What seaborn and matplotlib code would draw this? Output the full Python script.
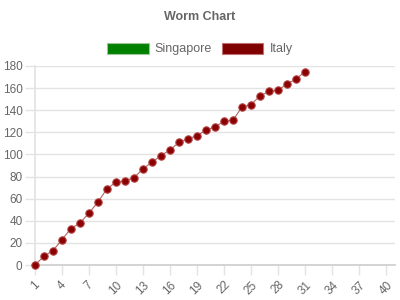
import matplotlib
matplotlib.use("Agg")
import matplotlib.pyplot as plt
import seaborn as sns
import pandas as pd
from matplotlib.patches import Patch

days = list(range(1, 32))
italy = [0, 8, 13, 23, 33, 38, 47, 57, 69, 75, 76, 79, 87, 93, 99, 104, 111, 114, 117,
         122, 125, 130, 131, 143, 145, 153, 157, 158, 164, 168, 175]
singapore = []
x_ticks = list(range(1, 41, 3))
y_ticks = list(range(0, 181, 20))
series_names = ["Singapore", "Italy"]
series_colors = ["#008000", "#800000"]

sns.set_theme(style="white")
plt.rcParams['font.family'] = ['Liberation Sans', 'DejaVu Sans']

fig = plt.figure(figsize=(4, 3), dpi=100)
ax = fig.add_axes([35/400, 1 - 265/300, 360/400, 199/300])

df = pd.DataFrame({"day": days, "value": italy})
sns.lineplot(data=df, x="day", y="value", ax=ax, color="#800000", alpha=0.6, lw=0.8,
             marker=None, legend=False)
sc = sns.scatterplot(data=df, x="day", y="value", ax=ax, color="#8b0000", s=28,
                     edgecolor="#b04040", linewidth=0.8, zorder=3, legend=False)
for coll in ax.collections:
    coll.set_clip_on(False)

ax.set_xlim(1, 41)
ax.set_ylim(0, 180)
ax.set_xticks(x_ticks)
ax.set_yticks(y_ticks)
ax.set_xlabel("")
ax.set_ylabel("")
ax.grid(axis="y", color="#e3e3e3", lw=1)
ax.grid(axis="x", visible=False)
for s in ["top", "right"]:
    ax.spines[s].set_visible(False)
ax.spines["left"].set_color("#e3e3e3")
ax.spines["bottom"].set_color("#cfcfcf")
ax.tick_params(axis="both", colors="#e3e3e3", labelcolor="#666666", labelsize=8.5,
               length=7, width=1, pad=2, left=True, bottom=True)
ax.tick_params(axis="x", labelrotation=45, pad=3)
for lbl in ax.get_xticklabels():
    lbl.set_ha("center")
    lbl.set_va("top")
ax.set_axisbelow(True)

fig.text(0.5, 1 - 17/300, "Worm Chart", ha="center", va="center", fontsize=9,
         fontweight="bold", color="#666666")
handles = [Patch(facecolor=c, edgecolor="#9ac79a" if i == 0 else "#c07070", lw=0.8, label=n)
           for i, (n, c) in enumerate(zip(series_names, series_colors))]
fig.legend(handles=handles, loc="center", bbox_to_anchor=(0.5, 1 - 49/300), ncol=2,
           frameon=False, fontsize=9, handlelength=3.3, handleheight=1.0,
           columnspacing=0.8, handletextpad=0.5, labelcolor="#666666")

fig.savefig("out.png", dpi=100)
